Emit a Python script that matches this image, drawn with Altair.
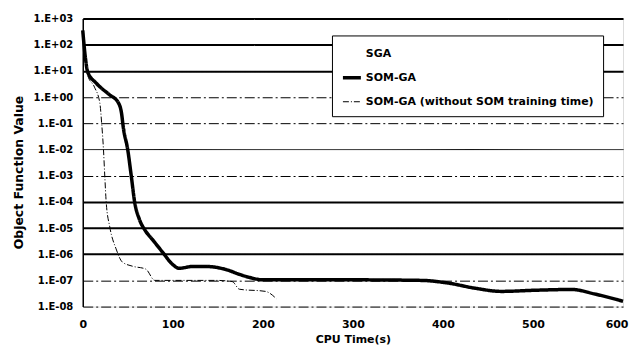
import altair as alt
import pandas as pd

series_names = ["SGA", "SOM-GA", "SOM-GA (without SOM training time)"]

# SOM-GA (thick line)
somga_t = [0, 3, 5.5, 15, 30, 39, 43, 45, 50, 54, 57.6, 63, 68.7, 77.5, 89, 100, 107,
           122, 137, 159, 174, 185, 200, 300, 376, 406, 436, 465, 502, 543, 569, 600]
somga_v = [3.5e2, 3.0e1, 9.0, 3.4, 1.2, 6.5e-1, 2.5e-1, 7.0e-2, 9.5e-3, 9.0e-4, 1.0e-4,
           2.1e-5, 8.7e-6, 3.6e-6, 1.15e-6, 4.0e-7, 2.9e-7, 3.4e-7, 3.4e-7, 2.6e-7,
           1.7e-7, 1.3e-7, 1.05e-7, 1.05e-7, 1.0e-7, 7.9e-8, 5.0e-8, 3.8e-8, 4.2e-8,
           4.5e-8, 3.0e-8, 1.6e-8]

# SOM-GA without SOM training time (thin dashed line)
notrain_t = [0, 3, 5.5, 13, 19, 21, 23, 24.5, 26, 30, 37, 44, 55, 70, 80, 148, 166,
             174, 203, 215]
notrain_v = [3.0e2, 3.0e1, 6.8, 2.4, 5.8e-1, 1.0e-1, 1.0e-2, 9.0e-4, 1.0e-4, 1.1e-5,
             1.6e-6, 5.0e-7, 3.5e-7, 2.7e-7, 1.0e-7, 1.0e-7, 9.0e-8, 4.6e-8, 3.8e-8,
             2.0e-8]

x_ticks = [0, 100, 200, 300, 400, 500, 600]
y_ticks = [1e-8, 1e-7, 1e-6, 1e-5, 1e-4, 1e-3, 1e-2, 1e-1, 1e0, 1e1, 1e2, 1e3]

rows = []
for t, v in zip(somga_t, somga_v):
    rows.append({"t": t, "v": v, "series": series_names[1]})
for t, v in zip(notrain_t, notrain_v):
    rows.append({"t": t, "v": v, "series": series_names[2]})
df = pd.DataFrame(rows)

FONT = "DejaVu Sans"

label_expr = ("'1.E' + (round(log(datum.value)/LN10) < 0 ? '-' : '+') + "
              "(abs(round(log(datum.value)/LN10)) < 10 ? '0' : '') + "
              "abs(round(log(datum.value)/LN10))")

solid_test = ("datum.value > 5 || (datum.value < 0.0005 && datum.value > 0.0000005) "
              "|| (datum.value > 0.005 && datum.value < 0.05)")
thick_test = ("datum.value > 5 || (datum.value < 0.0005 && datum.value > 0.0000005)")
last_test = "datum.value == 600"

chart = alt.Chart(df).mark_line(interpolate="monotone").encode(
    x=alt.X("t:Q",
            scale=alt.Scale(domain=[0, 600], nice=False),
            axis=alt.Axis(values=x_ticks, title="CPU Time(s)", grid=False, domain=False,
                          ticks=False, labelFlush=False, labelPadding=12, titlePadding=4,
                          labelAlign={"condition": {"test": last_test, "value": "right"},
                                      "value": "center"},
                          labelOffset={"condition": {"test": last_test, "value": 5},
                                       "value": 0},
                          labelFont=FONT, labelFontWeight="bold", labelFontSize=11,
                          labelColor="black", titleFont=FONT, titleFontWeight="bold",
                          titleFontSize=11, titleColor="black")),
    y=alt.Y("v:Q",
            scale=alt.Scale(type="log", domain=[1e-8, 1e3], nice=False),
            axis=alt.Axis(values=y_ticks, labelExpr=label_expr,
                          title="Object Function Value", titleY=154,
                          grid=True, gridColor="black",
                          gridWidth={"condition": {"test": thick_test, "value": 2},
                                     "value": 1},
                          gridDash={"condition": {"test": solid_test, "value": [1, 0]},
                                    "value": [10, 3, 2, 3]},
                          domain=True, domainColor="black", domainWidth=1.5,
                          ticks=False, labelPadding=10, titlePadding=8,
                          labelFont=FONT, labelFontWeight="bold", labelFontSize=10,
                          labelColor="black", titleFont=FONT, titleFontWeight="bold",
                          titleFontSize=12.5, titleColor="black")),
    color=alt.Color("series:N", title=None,
                    scale=alt.Scale(domain=series_names,
                                    range=["transparent", "black", "black"]),
                    legend=alt.Legend(orient="none", legendX=250, legendY=17,
                                      fillColor="white", strokeColor="black",
                                      padding=9, rowPadding=7.5, symbolType="stroke",
                                      symbolSize=324, labelFont=FONT,
                                      labelFontWeight="bold", labelFontSize=11,
                                      labelColor="black", labelLimit=400,
                                      labelOffset=3)),
    strokeWidth=alt.StrokeWidth("series:N", title=None,
                                scale=alt.Scale(type="ordinal", domain=series_names,
                                                range=[1.5, 3.5, 1])),
    strokeDash=alt.StrokeDash("series:N", title=None,
                              scale=alt.Scale(domain=series_names,
                                              range=[[1, 0], [1, 0], [6, 2, 1, 2]])),
).properties(
    width=542, height=289,
    padding={"left": 4, "top": 5, "right": 0, "bottom": 0},
).configure_view(
    stroke="black", strokeWidth=1, strokeDash=[6, 3]
).configure(background="white")

chart.save("out.html", embed_options={"renderer": "svg", "actions": False})
